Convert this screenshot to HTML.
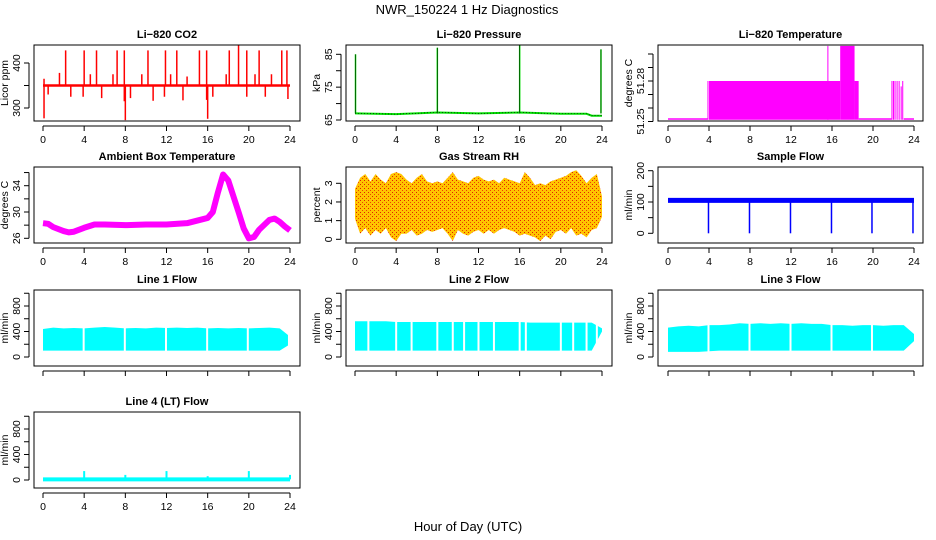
<!DOCTYPE html>
<html><head><meta charset="utf-8"><style>
html,body{margin:0;padding:0;background:#fff;}
svg{display:block;font-family:"Liberation Sans",sans-serif;}
</style></head><body>
<svg id="c" width="936" height="540" viewBox="0 0 936 540" xmlns="http://www.w3.org/2000/svg">
<defs>
<pattern id="rhpat" width="4" height="4" patternUnits="userSpaceOnUse"><rect width="4" height="4" fill="#ffc400"/><rect x="0" y="0" width="1" height="1" fill="#e02000"/><rect x="2" y="2" width="1" height="1" fill="#f04000"/></pattern>
</defs>
<text x="467" y="14" text-anchor="middle" font-size="13">NWR_150224  1 Hz Diagnostics</text>
<text x="468" y="531" text-anchor="middle" font-size="13">Hour of Day (UTC)</text>
</svg>
<script>
// ---- data ----
const hourTicks=[0,4,8,12,16,20,24];
const co2Base=350;
const co2SpikeHours=[0.1,0.1,0.5,1.6,2.2,2.7,3.9,4.0,4.6,5.2,5.7,6.8,7.2,7.9,7.9,8.0,8.5,9.6,10.2,10.7,11.8,11.9,12.4,13.0,13.6,14.0,15.2,15.9,15.9,16.0,16.5,17.8,18.1,19.0,19.8,19.8,20.6,21.0,21.6,22.2,23.2,23.7,23.8];
const co2SpikeVals=[365,277,330,378,428,325,325,428,375,428,322,375,428,428,315,273,322,375,428,316,325,428,375,428,317,370,428,428,318,276,325,375,428,440,428,325,375,428,325,375,428,428,320];
const presBaseHours=[0,4,8,12,16,20,22.5,23,24];
const presBaseVals=[67,66.8,67.3,67,67.3,66.9,66.9,66.3,66.3];
const presSpikeHours=[0.05,8.0,16.0,23.9];
const presSpikeVals=[85,87,88,86.5];
const ltStart=[0,3.85,4.0,15.55,16.8,18.2,18.6,21.8,21.95,22.1,22.3,22.5,22.7,22.85,23.0];
const ltEnd=[3.85,3.95,16.8,15.62,18.2,18.6,21.8,21.9,22.05,22.2,22.4,22.6,22.8,22.95,24];
const ltVals=[51.2524,51.28,51.28,51.306,51.306,51.28,51.2524,51.28,51.28,51.28,51.28,51.28,51.276,51.28,51.2524];
const ambHours=[0,0.5,1,2,2.5,3,4,5,6,8,10,12,14,15,16,16.5,17,17.5,18,19,19.5,20,20.5,21,22,22.5,23,23.5,24];
const ambVals=[28.3,28.2,27.7,27.1,26.9,27.0,27.6,28.1,28.1,28.0,28.1,28.1,28.3,28.7,29.1,30,33,35.7,34.8,30,27.5,26.0,26.2,27.3,28.8,29.0,28.5,27.8,27.2];
const rhHours=[0,0.5,1,1.5,2,2.5,3,3.5,4,4.5,5,5.5,6,6.5,7,7.5,8,8.5,9,9.5,10,10.5,11,11.5,12,12.5,13,13.5,14,14.5,15,15.5,16,16.5,17,17.5,18,18.5,19,19.5,20,20.5,21,21.5,22,22.5,23,23.5,24];
const rhHi=[2.7,3.3,3.5,3.1,3.5,3.2,3.0,3.5,3.6,3.5,3.2,3.0,3.3,3.5,3.1,3.0,3.1,3.0,3.3,3.6,3.2,3.1,3.0,3.3,3.4,3.2,3.1,3.2,3.0,3.3,3.2,3.1,3.0,3.6,3.3,2.9,3.0,2.9,3.1,3.2,3.3,3.4,3.6,3.7,3.4,3.0,3.3,3.5,2.3];
const rhLo=[1.1,0.3,0.6,0.2,0.5,0.3,0.6,0.1,-0.1,0.3,0.3,0.5,0.2,0.3,0.5,0.4,0.5,0.6,0.3,-0.1,0.5,0.3,0.2,0.4,0.5,0.3,0.5,0.3,0.5,0.6,0.5,0.4,0.2,0.3,0.2,0.1,-0.1,0.2,0.0,0.4,0.5,0.3,0.6,0.2,0.3,0.1,0.5,0.6,1.2];
const sfBase=105;
const sfDipHours=[3.95,7.95,11.95,15.95,19.9,23.9];
const sfDipVals=[0,0,0,0,0,0];
const flowHours=[0,1,2,3,4,5,6,7,8,9,10,11,12,13,14,15,16,17,18,19,20,21,22,23,24];
const line1Hi=[440,460,450,455,450,460,470,460,450,455,450,460,455,460,455,460,450,455,450,455,450,455,460,450,320];
const line1Lo=[100,100,100,100,100,100,100,100,100,100,100,100,100,100,100,100,100,100,100,100,100,100,100,100,200];
const line1Gaps=[3.95,7.95,11.95,15.95,19.9,23.9];
const line2Hi=[560,560,560,560,550,550,550,550,550,550,550,550,550,550,550,550,550,540,540,540,540,540,540,540,450];
const line2Lo=[100,100,100,100,100,100,100,100,100,100,100,100,100,100,100,100,100,100,100,100,100,100,100,100,400];
const line2Gaps=[1.3,4.0,5.5,8.0,9.5,10.6,12.0,13.5,16.0,16.6,20.0,21.2,22.5,23.5];
const line3Hi=[460,480,490,480,500,500,510,530,520,530,520,530,520,530,520,520,500,500,490,500,500,490,500,500,360];
const line3Lo=[80,80,80,80,90,100,100,100,100,100,100,100,100,100,100,100,100,100,100,100,100,100,100,100,250];
const line3Gaps=[3.95,7.95,11.95,15.95,19.9];
const line4Base=10;
const line4SpikeHours=[4.0,8.0,12.0,16.0,20.0,24.0];
const line4SpikeVals=[140,80,140,60,140,80];

// ---- layout ----
const svg=document.getElementById('c');
const NS='http://www.w3.org/2000/svg';
const cols=[{L:34,R:300,x0:43,x24:290},{L:346,R:612,x0:355,x24:602},{L:658,R:923,x0:668,x24:914}];
const rowTop=[45,167,290,412];
const H=76;
function mk(tag,attrs,parent){const e=document.createElementNS(NS,tag);for(const k in attrs)e.setAttribute(k,attrs[k]);(parent||svg).appendChild(e);return e;}

function panel(ci,ri,name,title,ylab,vA,oA,vB,oB,ticks,labels,dec){
  const c=cols[ci],T=rowTop[ri],B=T+H;
  const g=mk('g',{});
  
  
  const X=h=>c.x0+(h/24)*(c.x24-c.x0);
  const Y=v=>T+oA+(v-vA)*(oB-oA)/(vB-vA);
  const cp=mk('clipPath',{id:'clip-'+name},g);
  mk('rect',{x:c.L,y:T,width:c.R-c.L,height:H},cp);
  const data=mk('g',{'clip-path':'url(#clip-'+name+')'},g);
  
  
  const box=mk('rect',{x:c.L,y:T,width:c.R-c.L,height:H,fill:'none',stroke:'#000','stroke-width':1},g);
  
  
  const t=mk('text',{x:(c.L+c.R)/2,y:T-7,'text-anchor':'middle','font-size':11,'font-weight':'bold'},g);
  t.textContent=title;
  
  
  const xa=mk('g',{},g);
  
  
  mk('line',{x1:X(0),x2:X(24),y1:B+5,y2:B+5,stroke:'#000'},xa);
  hourTicks.forEach(h=>{mk('line',{x1:X(h),x2:X(h),y1:B+5,y2:B+10,stroke:'#000'},xa);
    if(ri!==2){const l=mk('text',{x:X(h),y:B+22,'text-anchor':'middle','font-size':10.5},xa);l.textContent=h;}});
  const ya=mk('g',{},g);
  
  
  mk('line',{x1:c.L-5,x2:c.L-5,y1:Y(ticks[0]),y2:Y(ticks[ticks.length-1]),stroke:'#000'},ya);
  ticks.forEach(v=>{mk('line',{x1:c.L-10,x2:c.L-5,y1:Y(v),y2:Y(v),stroke:'#000'},ya);
    if(labels.indexOf(v)>=0){const yy=Y(v);const l=mk('text',{x:c.L-14,y:yy,'text-anchor':'middle','font-size':10.5,transform:'rotate(-90 '+(c.L-14)+' '+yy+')'},ya);l.textContent=v.toFixed(dec);}});
  const yl=mk('text',{x:c.L-26,y:(T+B)/2,'text-anchor':'middle','font-size':10.5,transform:'rotate(-90 '+(c.L-26)+' '+((T+B)/2)+')'},g);
  yl.textContent=ylab;
  
  
  return {X,Y,g:data};
}
function poly(p,xs,ys,attrs){return mk('polyline',Object.assign({points:xs.map((x,i)=>p.X(x)+','+p.Y(ys[i])).join(' '),fill:'none'},attrs),p.g);}
function band(p,xs,hi,lo,fill){const pts=xs.map((x,i)=>p.X(x)+','+p.Y(hi[i])).concat(xs.map((x,i)=>p.X(x)+','+p.Y(lo[i])).reverse());return mk('polygon',{points:pts.join(' '),fill:fill},p.g);}
function vlines(p,xs,v0,vals,color,w){xs.forEach((h,i)=>{const l=mk('line',{x1:p.X(h),x2:p.X(h),y1:p.Y(v0),y2:p.Y(vals[i]),stroke:color,'stroke-width':w},p.g);});}

// CO2
let p=panel(0,0,'co2','Li\u2212820 CO2','Licor ppm',400,18,300,63,[300,350,400],[300,400],0);
poly(p,[0,24],[co2Base,co2Base],{stroke:'#ff0000','stroke-width':2.5});
vlines(p,co2SpikeHours,co2Base,co2SpikeVals,'#ff0000',1.5);
// Pressure
p=panel(1,0,'pressure','Li\u2212820 Pressure','kPa',85,9.3,65,75,[65,70,75,80,85],[65,75,85],0);
poly(p,presBaseHours,presBaseVals,{stroke:'#00dd00','stroke-width':2});
poly(p,presBaseHours,presBaseVals,{stroke:'#000','stroke-width':0.6,'stroke-dasharray':'1 2'});
vlines(p,presSpikeHours,67,presSpikeVals,'#00dd00',1.5);
vlines(p,presSpikeHours,67,presSpikeVals,'#000',0.5);
// Li temp
p=panel(2,0,'li-temperature','Li\u2212820 Temperature','degrees C',51.25,76.5,51.30,9,[51.25,51.26,51.27,51.28,51.29,51.30],[51.25,51.28],2);
ltStart.forEach((s,i)=>{const r=mk('rect',{x:p.X(s),y:p.Y(ltVals[i]),width:Math.max(1,p.X(ltEnd[i])-p.X(s)),height:p.Y(51.2524)-p.Y(ltVals[i])+1.5,fill:'#ff00ff'},p.g);});
// Ambient
p=panel(0,1,'ambient-temperature','Ambient Box Temperature','degrees C',34,18.7,26,71.3,[26,28,30,32,34,36],[26,30,34],0);
poly(p,ambHours,ambVals,{stroke:'#ff00ff','stroke-width':6,'stroke-linejoin':'round'});
// RH
p=panel(1,1,'gas-stream-rh','Gas Stream RH','percent',3,16.3,0,72.3,[0,1,2,3],[0,1,2,3],0);
band(p,rhHours,rhHi,rhLo,'url(#rhpat)');
// Sample flow
p=panel(2,1,'sample-flow','Sample Flow','ml/min',200,3.7,0,66.3,[0,50,100,150,200],[0,100,200],0);
poly(p,[0,24],[sfBase,sfBase],{stroke:'#0000ff','stroke-width':5});
vlines(p,sfDipHours,sfBase,sfDipVals,'#0000ff',1.5);
// Lines
const fticks=[0,200,400,600,800,1000],flab=[0,400,800];
function flowPanel(ci,ri,name,title,hi,lo,gaps){
  const q=panel(ci,ri,name,title,'ml/min',0,67,800,16,fticks,flab,0);
  band(q,flowHours,hi,lo,'#00ffff');
  gaps.forEach(h=>{const l=mk('line',{x1:q.X(h),x2:q.X(h),y1:q.Y(1000),y2:q.Y(50),stroke:'#fff','stroke-width':2},q.g);});
  return q;
}
flowPanel(0,2,'line1-flow','Line 1 Flow',line1Hi,line1Lo,line1Gaps);
flowPanel(1,2,'line2-flow','Line 2 Flow',line2Hi,line2Lo,line2Gaps);
flowPanel(2,2,'line3-flow','Line 3 Flow',line3Hi,line3Lo,line3Gaps);
p=panel(0,3,'line4-flow','Line 4 (LT) Flow','ml/min',0,68,800,17,fticks,flab,0);
poly(p,[0,24],[line4Base,line4Base],{stroke:'#00ffff','stroke-width':4});
vlines(p,line4SpikeHours,line4Base,line4SpikeVals,'#00ffff',2);
</script>
</body></html>
